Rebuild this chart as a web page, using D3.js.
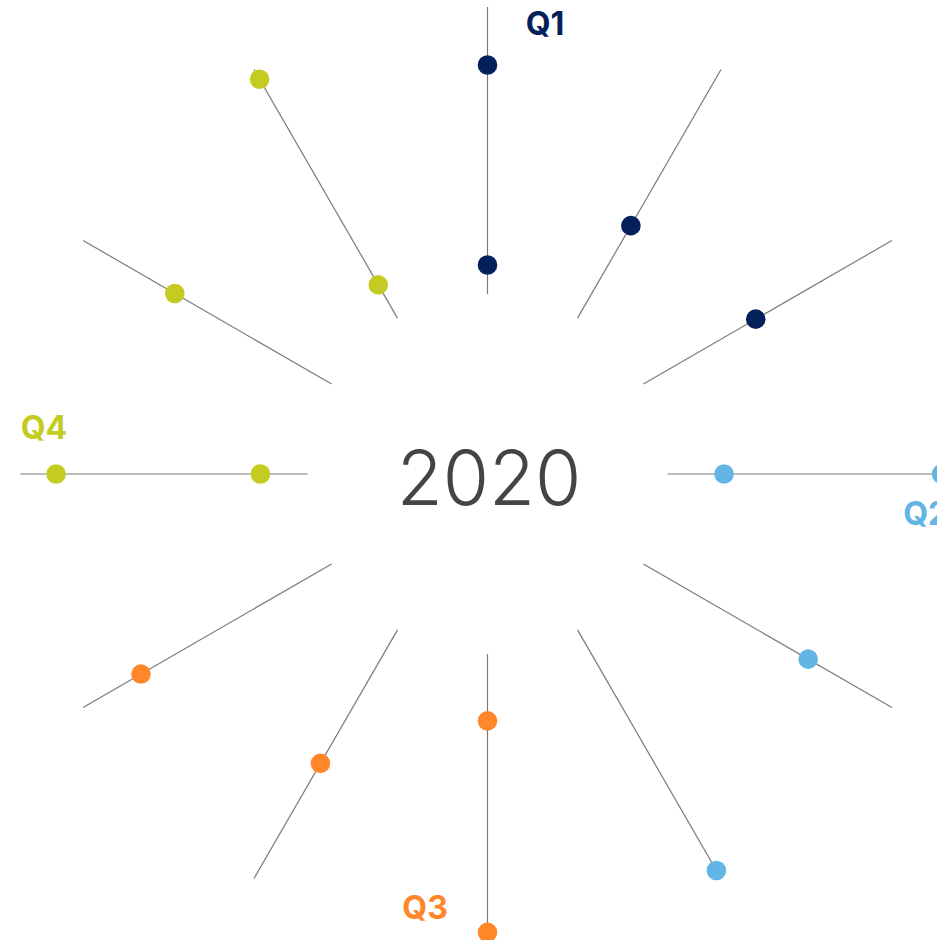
<!DOCTYPE html>
<html>
<head>
<meta charset="utf-8">
<script src="https://cdn.jsdelivr.net/npm/d3@7"></script>
<style>
    html, body { margin: 0; padding: 0; background: #fff; overflow: hidden; }
    svg { display: block; }
</style>
</head>
<body>
<div id="chart"></div>
<script>
// data
const months = ["Jan", "Feb", "Mar", "Apr", "May", "Jun", "Jul", "Aug", "Sep", "Oct", "Nov", "Dec"];
const quarters = ["Q1", "Q2", "Q3", "Q4"];
const quarterColors = ["#03205b", "#63b5e6", "#ff8629", "#c4cc22"];
const eventMonth = [0, 0, 1, 2, 3, 3, 4, 5, 6, 6, 7, 8, 9, 9, 10, 11, 11];
const eventValue = [79.8, 10.1, 37.2, 45.2, 19.7, 95.5, 66.3, 96.8, 23.3, 97.0, 53.7, 76.7, 16.4, 87.6, 63.1, 13.4, 96.1];
const yearLabel = "2020";

const width = 937, height = 940;
const cx = 487.5, cy = 474;
const innerR = 180, outerR = 467;

const angle = d3.scaleLinear().domain([0, months.length]).range([0, 2 * Math.PI]);
const r = d3.scaleLinear().domain([0, 100]).range([innerR, outerR]);
const color = d3.scaleOrdinal().domain(quarters).range(quarterColors);

const svg = d3.select("#chart").append("svg")
    .attr("width", width)
    .attr("height", height)
    .append("g")
    .attr("transform", "translate(" + cx + "," + cy + ")");

// spokes, one per month
svg.selectAll(".spoke")
    .data(months)
    .enter().append("line")
    .attr("class", "spoke")
    .attr("x1", (d, i) => d3.pointRadial(angle(i), innerR)[0])
    .attr("y1", (d, i) => d3.pointRadial(angle(i), innerR)[1])
    .attr("x2", (d, i) => d3.pointRadial(angle(i), outerR)[0])
    .attr("y2", (d, i) => d3.pointRadial(angle(i), outerR)[1])
    .attr("stroke", "#7a7a7a")
    .attr("stroke-width", 1.2);

// dots
const events = eventValue.map((v, i) => ({month: eventMonth[i], value: v}));
svg.selectAll(".dot")
    .data(events)
    .enter().append("circle")
    .attr("class", "dot")
    .attr("cx", d => d3.pointRadial(angle(d.month), r(d.value))[0])
    .attr("cy", d => d3.pointRadial(angle(d.month), r(d.value))[1])
    .attr("r", 9.8)
    .attr("fill", d => color(quarters[Math.floor(d.month / 3)]));

// quarter labels sit just clockwise of each quarter's first spoke
const labelShift = [0.127, 0.091, 0.143, 0.104]; // radians
const labelR = [454, 440, 438, 446];
svg.selectAll(".qlabel")
    .data(quarters)
    .enter().append("text")
    .attr("class", "qlabel")
    .attr("x", (d, i) => d3.pointRadial(angle(i * 3) + labelShift[i], labelR[i])[0])
    .attr("y", (d, i) => d3.pointRadial(angle(i * 3) + labelShift[i], labelR[i])[1])
    .attr("text-anchor", "middle")
    .attr("dominant-baseline", "central")
    .attr("font-family", "Inter, 'Open Sans', sans-serif")
    .attr("font-weight", 700)
    .attr("font-size", 32)
    .attr("fill", d => color(d))
    .text(d => d);

// year in the middle
svg.append("text")
    .attr("x", 1.5)
    .attr("y", 31)
    .attr("text-anchor", "middle")
    .attr("font-family", "Inter, 'Open Sans', sans-serif")
    .attr("font-weight", 300)
    .attr("font-size", 75)
    .attr("fill", "#444")
    .text(yearLabel);
</script>
</body>
</html>
